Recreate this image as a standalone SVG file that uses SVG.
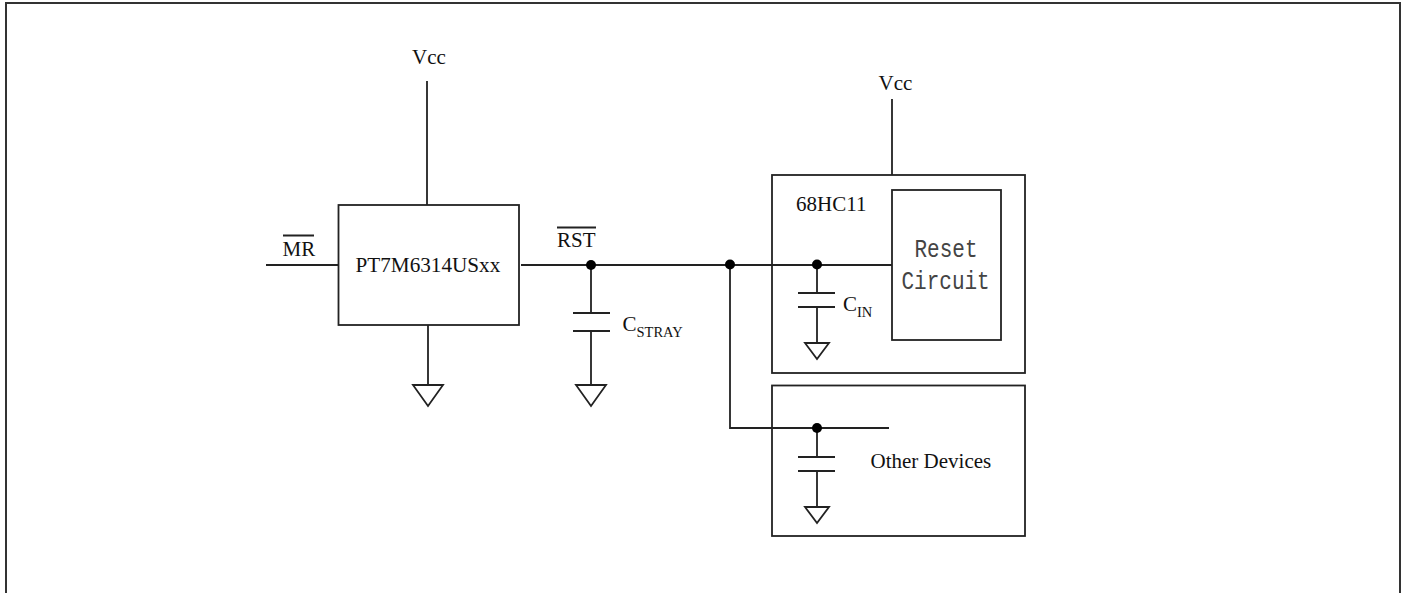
<svg xmlns="http://www.w3.org/2000/svg" width="1408" height="593" viewBox="0 0 1408 593">
<style>
.w{fill:none;stroke:#222;stroke-width:1.8}
.b{fill:#fff;stroke:#222;stroke-width:1.8}
.d{fill:#000;stroke:none}
text{font-family:"Liberation Serif","Times New Roman",serif;font-size:21px;fill:#111}
.s{font-size:14.500px}
.p{font-size:21.200px}
.m{font-family:"Liberation Mono","Courier New",monospace;font-size:21px;fill:#444}
</style>
<defs><path id="gnd" class="w" d="M-15 0H15L0 21Z"/><path id="gnds" class="w" d="M-12 0H12L0 16Z"/></defs>
<rect width="1408" height="593" fill="#fff"/>
<g id="frame"><path d="M6 593V3H1400V593" fill="none" stroke="#333" stroke-width="2"/></g>
<g id="u1"><rect class="b" x="338.500" y="205" width="180.500" height="120"/><text class="p" x="355.500" y="271.500">PT7M6314USxx</text></g>
<g id="mcu"><rect class="b" x="772" y="175" width="253" height="198"/><text x="796" y="211">68HC11</text></g>
<g id="reset"><rect class="b" x="892" y="190" width="109" height="150"/><text class="m" transform="translate(914.500,257) scale(1,1.25)">Reset</text><text class="m" transform="translate(901.500,288.500) scale(1,1.25)">Circuit</text></g>
<g id="other"><rect class="b" x="772" y="385.500" width="253" height="150.500"/><text x="870.500" y="468">Other Devices</text></g>
<g id="connectors">
<path class="w" d="M427 81V205M266 265H338.500M428 325V385M521 265H892M591 265V313M591 331V385M573 313H610M573 331H610"/>
<path class="w" d="M892 99V175M817 265V293M817 307V343M798 293H835M798 307H835"/>
<path class="w" d="M730 265V428H889M817 428V457M817 471V507M798 457H835M798 471H835"/>
<circle class="d" cx="591" cy="265" r="5"/><circle class="d" cx="730" cy="264.500" r="5"/><circle class="d" cx="817" cy="264.500" r="5"/><circle class="d" cx="817" cy="428" r="5"/>
<use href="#gnd" x="428" y="385"/><use href="#gnd" x="591" y="385"/><use href="#gnds" x="817" y="343"/><use href="#gnds" x="817" y="507"/>
<path class="w" d="M283 235.500H314M557 227.500H596"/>
</g>
<g id="labels">
<text x="412" y="64">Vcc</text><text x="878.500" y="90">Vcc</text>
<text x="282.500" y="255.500">MR</text><text x="557" y="247">RST</text>
<text x="622.500" y="331">C<tspan class="s" dy="5.500">STRAY</tspan></text>
<text x="843" y="311">C<tspan class="s" dy="5.500">IN</tspan></text>
</g>
</svg>
